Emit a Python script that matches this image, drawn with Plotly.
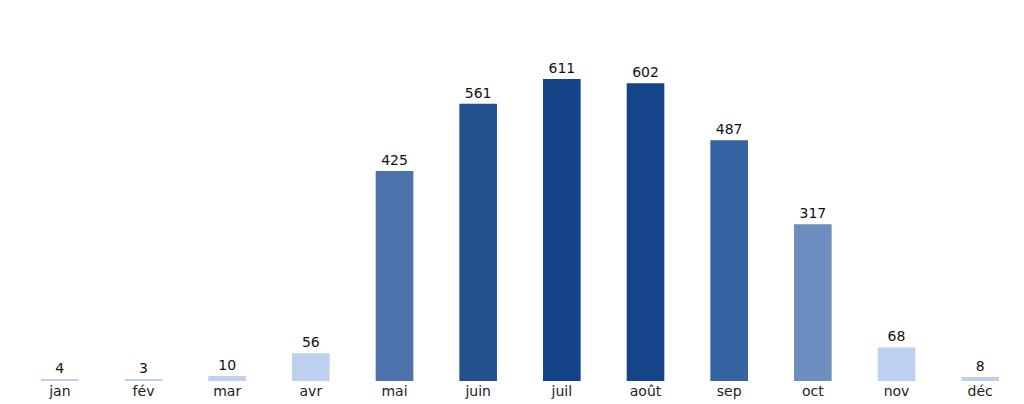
import plotly.graph_objects as go

months = ["jan","fév","mar","avr","mai","juin","juil","août","sep","oct","nov","déc"]
values = [4,3,10,56,425,561,611,602,487,317,68,8]
colors = ["#bdd0ef","#bdd0ef","#bdd0ef","#bdd0ef","#4b72ab","#23508f","#144387","#154588","#3562a0","#6d8fc0","#bdd0ef","#bdd0ef"]

fig = go.Figure(go.Bar(
    x=months, y=values, marker=dict(color=colors, line=dict(width=0)),
    width=0.45, text=[str(v) for v in values], textposition="outside",
    textfont=dict(size=14, color="#111"), cliponaxis=False,
))
fig.update_layout(
    width=1024, height=404, margin=dict(l=10, r=10, t=20, b=31),
    plot_bgcolor="white", paper_bgcolor="white",
    font=dict(family="DejaVu Sans", size=14, color="#222"),
    showlegend=False,
    xaxis=dict(showgrid=False, showline=False, ticks="", tickfont=dict(size=14)),
    yaxis=dict(visible=False, range=[0, 714]),
)
fig.write_html("out.html")
